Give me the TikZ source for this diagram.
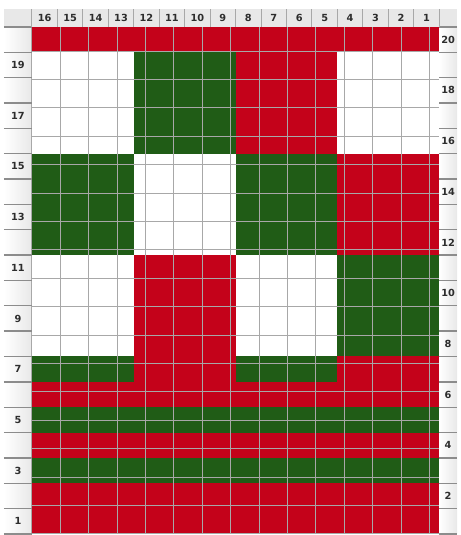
\documentclass[tikz,border=0pt]{standalone}
\usepackage{fontspec}
\setmainfont{DejaVu Sans}
\definecolor{chartred}{RGB}{196,2,26}
\definecolor{chartgreen}{RGB}{32,92,22}
\definecolor{labelgrey}{RGB}{232,232,232}
\definecolor{gridgrey}{RGB}{168,168,168}
\definecolor{sepgrey}{RGB}{140,140,140}
\definecolor{textgrey}{RGB}{45,45,45}
\tikzset{
  numlabel/.style={text=textgrey, font=\fontsize{9.8}{10}\selectfont\bfseries, inner sep=0pt}
}

\begin{document}
\begin{tikzpicture}[x=25.5pt, y=25.4pt]
  \useasboundingbox (-1.255,-0.04) rectangle (16.824,21.06);

  % label strips
  \fill[labelgrey] (-1.1,20) rectangle (16.7,20.71);
  \shade[left color=white, right color=labelgrey] (-1.1,0) rectangle (0,20);
  \shade[left color=white, right color=labelgrey] (16,0) rectangle (16.7,20);

  % colour blocks
  \fill[chartred] (0,19) rectangle (16,20);
  \fill[chartgreen] (4,15) rectangle (8,19);
  \fill[chartred] (8,15) rectangle (12,19);
  \fill[chartgreen] (0,11) rectangle (4,15);
  \fill[chartgreen] (8,11) rectangle (12,15);
  \fill[chartred] (12,11) rectangle (16,15);
  \fill[chartred] (4,7) rectangle (8,11);
  \fill[chartgreen] (12,7) rectangle (16,11);
  \fill[chartgreen] (0,6) rectangle (4,7);
  \fill[chartred] (4,6) rectangle (8,7);
  \fill[chartgreen] (8,6) rectangle (12,7);
  \fill[chartred] (12,6) rectangle (16,7);
  \fill[chartred] (0,5) rectangle (16,6);
  \fill[chartgreen] (0,4) rectangle (16,5);
  \fill[chartred] (0,3) rectangle (16,4);
  \fill[chartgreen] (0,2) rectangle (16,3);
  \fill[chartred] (0,0) rectangle (16,2);

  \draw[gridgrey, line width=1pt] (0,0) grid (16,20);

  % separators
  \foreach \r in {0,...,20} {
    \draw[sepgrey, line width=1.3pt] (-1.1,\r) -- (0,\r);
    \draw[sepgrey, line width=1.3pt] (16,\r) -- (16.7,\r);
  }
  \foreach \c in {0,...,16}
    \draw[gridgrey, line width=1pt] (\c,20) -- (\c,20.71);

  % numbers
  \foreach \c in {1,...,16}
    \node[numlabel] at (16.5-\c,20.36) {\c};
  \foreach \r in {1,3,...,19}
    \node[numlabel] at (-0.55,\r-0.5) {\r};
  \foreach \r in {2,4,...,20}
    \node[numlabel] at (16.35,\r-0.5) {\r};
\end{tikzpicture}
\end{document}
